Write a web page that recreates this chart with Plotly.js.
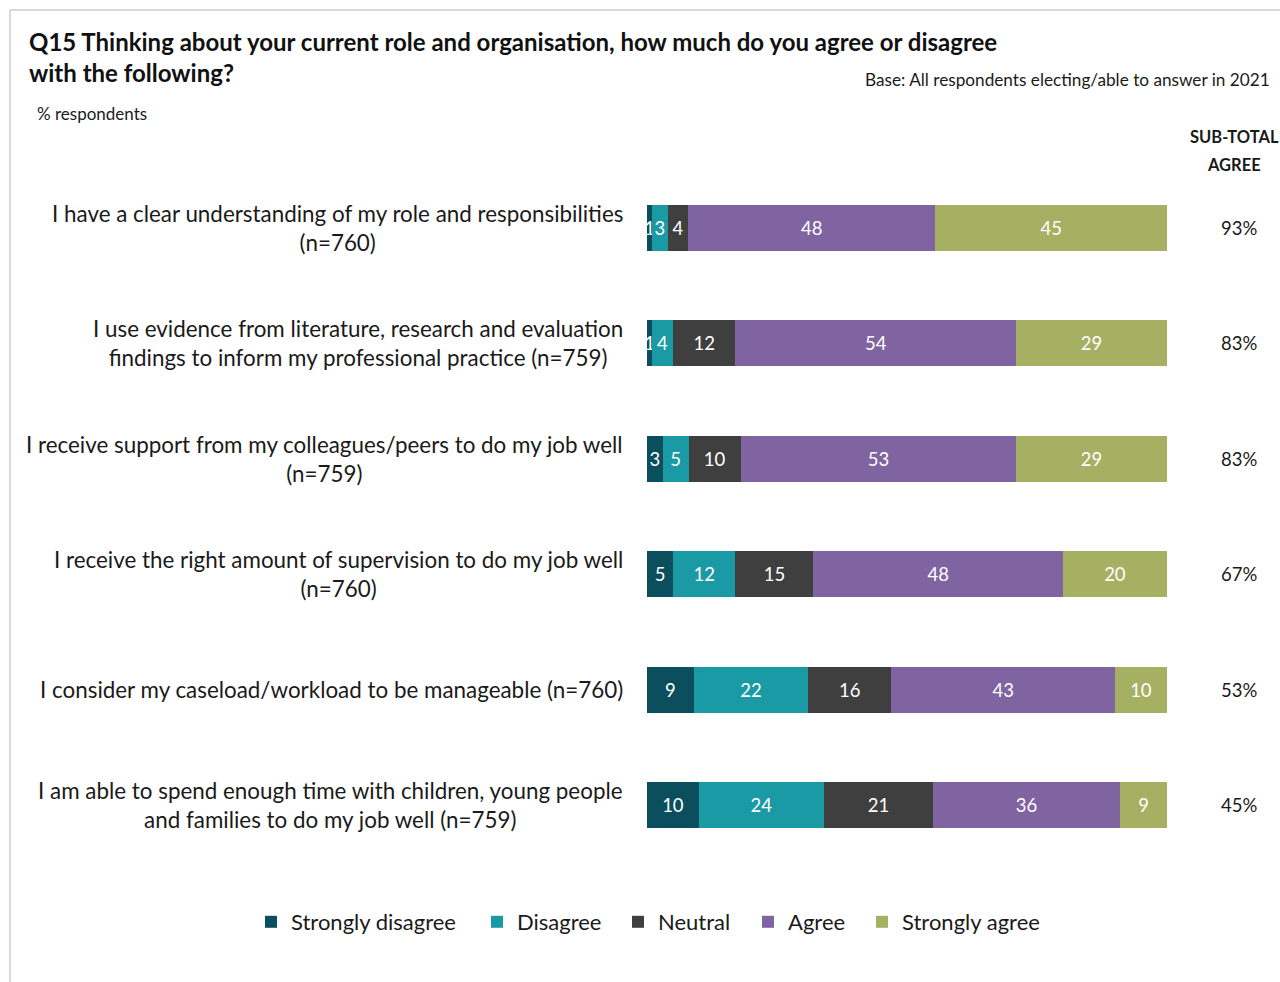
<!DOCTYPE html>
<html>
<head>
<meta charset="utf-8">
<script src="https://cdn.plot.ly/plotly-3.0.1.min.js"></script>
<style>
  html, body { margin: 0; padding: 0; background: #fff; }
  #chart { width: 1280px; height: 982px; }
</style>
</head>
<body>
<div id="chart"></div>
<script>
const categories = [
  "I have a clear understanding of my role and responsibilities<br>(n=760)",
  "I use evidence from literature, research and evaluation<br>findings to inform my professional practice (n=759)",
  "I receive support from my colleagues/peers to do my job well<br>(n=759)",
  "I receive the right amount of supervision to do my job well<br>(n=760)",
  "I consider my caseload/workload to be manageable (n=760)",
  "I am able to spend enough time with children, young people<br>and families to do my job well (n=759)"
];
const catKeys = ["c1", "c2", "c3", "c4", "c5", "c6"];
const seriesNames = ["Strongly disagree", "Disagree", "Neutral", "Agree", "Strongly agree"];
const stronglyDisagree = [1, 1, 3, 5, 9, 10];
const disagree = [3, 4, 5, 12, 22, 24];
const neutral = [4, 12, 10, 15, 16, 21];
const agree = [48, 54, 53, 48, 43, 36];
const stronglyAgree = [45, 29, 29, 20, 10, 9];
const subTotalAgree = ["93%", "83%", "83%", "67%", "53%", "45%"];
const colors = ["#0B4E5E", "#1A9AA5", "#3F3F3F", "#8064A2", "#A5B063"];

const FONT = "Lato, 'Open Sans', sans-serif";
const seriesValues = [stronglyDisagree, disagree, neutral, agree, stronglyAgree];

// plot area in pixels: x 647..1167, y 170..863
const PX = (px) => (px - 647) / 520;
const PY = (py) => (863 - py) / 693;

const legendIds = ["legend", "legend2", "legend3", "legend4", "legend5"];
const legendTextStartPx = [291, 517, 658, 788, 902];

const traces = seriesValues.map((vals, i) => ({
  type: "bar",
  orientation: "h",
  name: seriesNames[i],
  legend: legendIds[i],
  y: catKeys,
  x: vals,
  text: vals.map(String),
  textposition: "inside",
  insidetextanchor: "middle",
  constraintext: "none",
  textfont: { color: "#ffffff", size: 18.5, family: FONT },
  marker: { color: colors[i], line: { width: 0 } },
  hoverinfo: "skip"
}));

const annotations = [];
categories.forEach((c, i) => {
  annotations.push({
    xref: "paper", yref: "y", x: PX(625), y: catKeys[i],
    xanchor: "right", yanchor: "middle", align: "center",
    text: c, showarrow: false,
    font: { family: FONT, size: 22.4, color: "#1a1a1a" }
  });
  annotations.push({
    xref: "paper", yref: "y", x: PX(1239), y: catKeys[i],
    xanchor: "center", yanchor: "middle", align: "center",
    text: subTotalAgree[i], showarrow: false,
    font: { family: FONT, size: 18.5, color: "#1a1a1a" }
  });
});
annotations.push({
  xref: "paper", yref: "paper", x: PX(1234), y: PY(137),
  xanchor: "center", yanchor: "middle",
  text: "<b>SUB-TOTAL</b>", showarrow: false,
  font: { family: FONT, size: 16.5, color: "#1a1a1a" }
});
annotations.push({
  xref: "paper", yref: "paper", x: PX(1234), y: PY(165),
  xanchor: "center", yanchor: "middle",
  text: "<b>AGREE</b>", showarrow: false,
  font: { family: FONT, size: 16.5, color: "#1a1a1a" }
});
annotations.push({
  xref: "paper", yref: "paper", x: PX(35), y: PY(114),
  xanchor: "left", yanchor: "middle", align: "left",
  text: "% respondents", showarrow: false,
  font: { family: FONT, size: 17, color: "#1a1a1a" }
});
annotations.push({
  xref: "paper", yref: "paper", x: PX(1272), y: PY(80),
  xanchor: "right", yanchor: "middle", align: "right",
  text: "Base: All respondents electing/able to answer in 2021", showarrow: false,
  font: { family: FONT, size: 17.2, color: "#1a1a1a" }
});

const layout = {
  width: 1280,
  height: 982,
  paper_bgcolor: "#ffffff",
  plot_bgcolor: "#ffffff",
  margin: { l: 647, r: 113, t: 170, b: 119, pad: 0, autoexpand: false },
  barmode: "stack",
  barnorm: "percent",
  bargap: 0.6,
  title: {
    text: "<b>Q15 Thinking about your current role and organisation, how much do you agree or disagree</b><br><b>with the following?</b>",
    x: 29 / 1280, xanchor: "left", xref: "container",
    y: 1 - 51 / 982, yanchor: "middle", yref: "container",
    font: { family: FONT, size: 24, color: "#111111" }
  },
  font: { family: FONT, color: "#1a1a1a" },
  xaxis: {
    range: [0, 100], visible: false, fixedrange: true
  },
  yaxis: {
    type: "category", autorange: "reversed",
    showticklabels: false, showgrid: false, zeroline: false, showline: false,
    ticks: "", fixedrange: true
  },
  showlegend: true,
  uniformtext: { mode: "show", minsize: 18.5 },
  shapes: [
    {
      type: "line", xref: "paper", yref: "paper",
      x0: PX(10), x1: PX(10),
      y0: PY(10), y1: PY(990),
      line: { color: "#d9d9d9", width: 2 }
    },
    {
      type: "line", xref: "paper", yref: "paper",
      x0: PX(10), x1: PX(1290),
      y0: PY(10), y1: PY(10),
      line: { color: "#d9d9d9", width: 2 }
    }
  ],
  annotations: annotations
};

legendIds.forEach((id, i) => {
  layout[id] = {
    orientation: "h",
    xref: "paper",
    x: PX(legendTextStartPx[i] - 40),
    xanchor: "left",
    y: PY(922), yanchor: "middle",
    font: { family: FONT, size: 22, color: "#1a1a1a" },
    itemwidth: 30,
    bgcolor: "rgba(0,0,0,0)"
  };
});

Plotly.newPlot("chart", traces, layout, { displayModeBar: false, staticPlot: true });
</script>
</body>
</html>
